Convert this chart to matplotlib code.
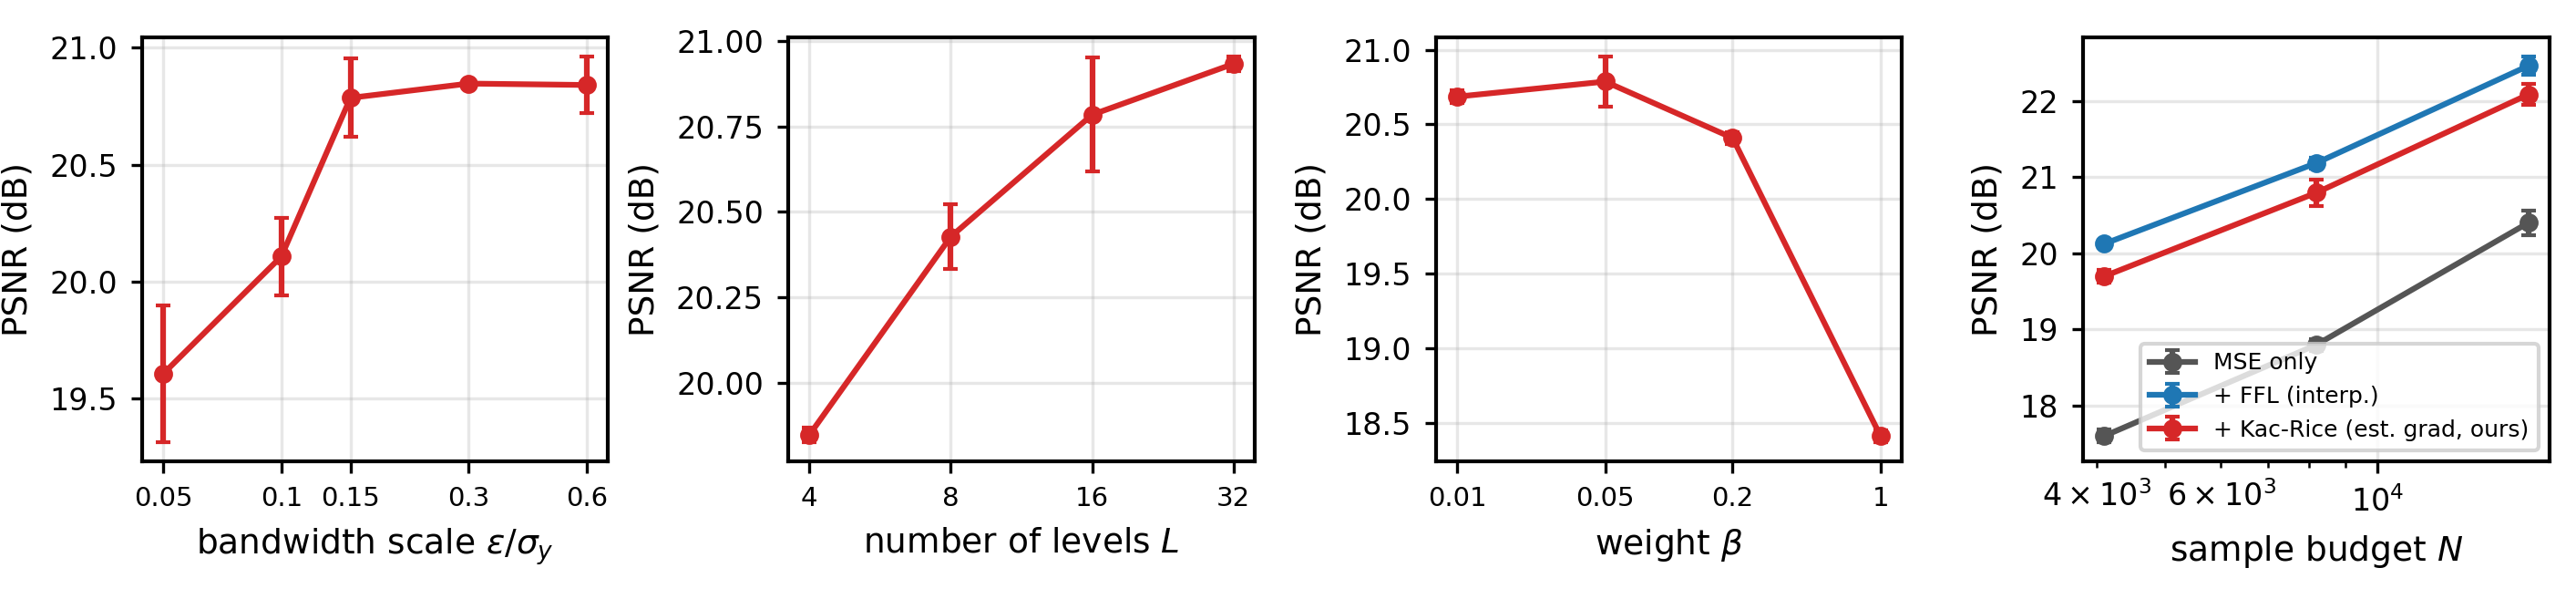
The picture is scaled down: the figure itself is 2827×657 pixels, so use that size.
import matplotlib
matplotlib.use("Agg")
import matplotlib.pyplot as plt
from matplotlib.ticker import NullLocator

# ---- data ----
eps_x = [0.05, 0.1, 0.15, 0.3, 0.6]
eps_labels = ["0.05", "0.1", "0.15", "0.3", "0.6"]
eps_psnr = [19.607, 20.108, 20.785, 20.846, 20.840]
eps_err = [0.292, 0.165, 0.168, 0.006, 0.121]

lev_x = [4, 8, 16, 32]
lev_labels = ["4", "8", "16", "32"]
lev_psnr = [19.847, 20.427, 20.784, 20.933]
lev_err = [0.021, 0.094, 0.167, 0.021]

beta_x = [0.01, 0.05, 0.2, 1]
beta_labels = ["0.01", "0.05", "0.2", "1"]
beta_psnr = [20.686, 20.787, 20.409, 18.411]
beta_err = [0.04, 0.167, 0.04, 0.04]

N_x = [4096, 8192, 16384]
mse_psnr = [17.604, 18.80, 20.401]
mse_err = [0.08, 0.08, 0.16]
ffl_psnr = [20.125, 21.185, 22.461]
ffl_err = [0.03, 0.068, 0.12]
kr_psnr = [19.699, 20.795, 22.085]
kr_err = [0.08, 0.175, 0.137]

RED = "#d62728"
BLUE = "#1f77b4"
GRAY = "#555555"

plt.rcParams["font.family"] = ["DejaVu Sans"]
plt.rcParams["axes.linewidth"] = 1.0
plt.rcParams["mathtext.fontset"] = "dejavusans"

W, H = 2827, 657
fig = plt.figure(figsize=(W / 300, H / 300), dpi=300)

lefts = [156, 865, 1576, 2286]
widths = [511, 512, 511, 512]
top_px, bot_px = 41, 506
axes = []
for l, w in zip(lefts, widths):
    ax = fig.add_axes([l / W, 1 - bot_px / H, w / W, (bot_px - top_px) / H])
    axes.append(ax)

ekw = dict(marker="o", ms=4, lw=1.5, elinewidth=1.5, capsize=2, capthick=1.0)


def style(ax):
    ax.grid(True, alpha=0.3)
    ax.tick_params(axis="y", labelsize=8, length=3, width=0.8)
    ax.tick_params(axis="x", which="major", length=3, width=0.8)
    ax.tick_params(axis="x", which="minor", length=1.7, width=0.6)
    ax.set_ylabel("PSNR (dB)", fontsize=9)


# panel 1
ax = axes[0]
ax.errorbar(eps_x, eps_psnr, yerr=eps_err, color=RED, **ekw)
ax.set_xscale("log")
ax.set_xticks(eps_x)
ax.set_xticklabels(eps_labels, fontsize=7)
ax.xaxis.set_minor_locator(NullLocator())
ax.set_xlabel(r"bandwidth scale $\epsilon/\sigma_y$", fontsize=9)
style(ax)

# panel 2
ax = axes[1]
ax.errorbar(lev_x, lev_psnr, yerr=lev_err, color=RED, **ekw)
ax.set_xscale("log", base=2)
ax.set_xticks(lev_x)
ax.set_xticklabels(lev_labels, fontsize=7)
ax.xaxis.set_minor_locator(NullLocator())
ax.set_xlabel(r"number of levels $L$", fontsize=9)
style(ax)

# panel 3
ax = axes[2]
ax.errorbar(beta_x, beta_psnr, yerr=beta_err, color=RED, **ekw)
ax.set_xscale("log")
ax.set_xticks(beta_x)
ax.set_xticklabels(beta_labels, fontsize=7)
ax.xaxis.set_minor_locator(NullLocator())
ax.set_xlabel(r"weight $\beta$", fontsize=9)
style(ax)

# panel 4
ax = axes[3]
ax.errorbar(N_x, mse_psnr, yerr=mse_err, color=GRAY, label="MSE only", **ekw)
ax.errorbar(N_x, ffl_psnr, yerr=ffl_err, color=BLUE, label="+ FFL (interp.)", **ekw)
ax.errorbar(N_x, kr_psnr, yerr=kr_err, color=RED,
            label="+ Kac-Rice (est. grad, ours)", **ekw)
ax.set_xscale("log")
ax.set_xlabel(r"sample budget $N$", fontsize=9)
style(ax)
ax.tick_params(axis="x", which="both", labelsize=8)
ax.legend(loc="lower right", fontsize=6)

fig.savefig("out.png", dpi=300)
